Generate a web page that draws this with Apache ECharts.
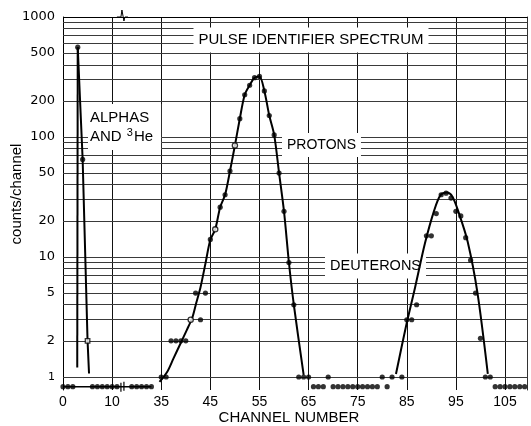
<!DOCTYPE html>
<html>
<head>
<meta charset="utf-8">
<script src="https://cdn.jsdelivr.net/npm/echarts@6/dist/echarts.min.js"></script>
<style>
  html, body { margin: 0; padding: 0; background: #fff; }
  #chart { width: 531px; height: 426px; }
</style>
</head>
<body>
<div id="chart"></div>
<script>
// Pulse identifier spectrum: counts per channel on semi-log paper.
// The channel axis is broken: channels 13..28 are cut out, so 35 sits where 20 would.

// measured channels and their counts (0 = empty channel)
const channels = [
  0, 1, 2, 3, 4, 5, 6, 7, 8, 9, 10, 11,
  29, 30, 31, 32, 33,
  35, 36, 37, 38, 39, 40, 41, 42, 43, 44, 45, 46, 47, 48, 49, 50, 51, 52, 53, 54, 55, 56, 57, 58, 59,
  60, 61, 62, 63, 64, 65, 66, 67, 68, 69, 70, 71, 72, 73, 74, 75, 76, 77, 78, 79, 80, 81, 82,
  84, 85, 86, 87,
  89, 90, 91, 92, 93, 94, 95, 96, 97, 98, 99, 100, 101, 102, 103, 104, 105, 106, 107, 108, 109
];
const counts = [
  0, 0, 0, 560, 65, 2, 0, 0, 0, 0, 0, 0,
  0, 0, 0, 0, 0,
  1, 1, 2, 2, 2, 2, 3, 5, 3, 5, 14, 17, 26, 33, 52, 85, 142, 225, 270, 312, 320, 242, 151, 104, 50,
  24, 9, 4, 1, 1, 1, 0, 0, 0, 1, 0, 0, 0, 0, 0, 0, 0, 0, 0, 0, 1, 0, 1,
  1, 3, 3, 4,
  15, 15, 23, 33, 34, 31, 24, 22, 14.5, 9.4, 5, 2.1, 1, 1, 0, 0, 0, 0, 0, 0, 0
];
const openCircleChannels = [41, 46, 50];
const openSquareChannels = [5];

// hand-drawn curves through the peaks
const alphaRiseChannels = [2.9, 3];
const alphaRiseCounts = [1.2, 560];
const alphaFallChannels = [3, 4, 5, 5.3];
const alphaFallCounts = [560, 65, 2, 1.07];
const protonFitChannels = [34.65, 36.2, 37.5, 39, 40.2, 41.3, 42.1, 43, 44, 45, 46, 47, 48, 49, 50,
  51, 52, 53, 54, 55, 56, 57, 58, 59, 60, 61, 62, 64];
const protonFitCounts = [0.91, 1.1, 1.43, 1.93, 2.46, 3.1, 4.1, 5.6, 8.8, 13.9, 17, 26, 33, 52, 85,
  142, 225, 270, 312, 320, 242, 151, 104, 50, 24, 9, 4, 1.04];
const deuteronFitChannels = [82.8, 84.8, 86.7, 88.7, 90.6, 91.9, 93.2, 94.3, 95.5, 97.4, 99.4, 101.5];
const deuteronFitCounts = [1.06, 2.6, 5.6, 13, 24.6, 32.9, 34.4, 31.8, 23.9, 13.4, 5, 1.06];
// baseline joining the empty channels on the left
const baselineChannels = [0, 33];

// axis text
const xTickLabels = ['0', '10', '35', '45', '55', '65', '75', '85', '95', '105'];
const yTickValues = [1000, 500, 200, 100, 50, 20, 10, 5, 2, 1];

// ---- axis mapping ----
const BREAK_AT = 12;    // axis position of the break
const HIDDEN = 15;      // channel offset after the break
const ZERO_ROW = 0.83;  // empty channels are drawn just under the 1-count line
const pos = ch => (ch <= BREAK_AT ? ch : ch - HIDDEN);
const row = c => (c === 0 ? ZERO_ROW : c);
const pairs = (xs, ys) => xs.map((x, i) => [pos(x), row(ys[i])]);

// log-paper rulings: 1..9 in every decade, up to 1000
const paperLines = [];
[1, 10, 100].forEach(d => { for (let m = 1; m <= 9; m++) paperLines.push(m * d); });
paperLines.push(1000);

const INK = '#000';
const FONT = '"Liberation Sans", Arial, sans-serif';
const TICK_FONT = '"DejaVu Sans", sans-serif';

const rulingData = paperLines.map(v => {
  const item = { yAxis: v };
  if (v === 1000) item.lineStyle = { color: INK, width: 1 };
  if (yTickValues.includes(v)) {
    item.label = {
      show: true, position: 'start', formatter: String(v), distance: 8,
      color: INK, fontSize: v === 1 ? 11 : 13, fontFamily: TICK_FONT
    };
  }
  return item;
});
rulingData.push({
  yAxis: ZERO_ROW, lineStyle: { opacity: 0 },
  label: { show: true, position: 'start', formatter: '0', distance: 9, color: INK, fontSize: 17,
    fontFamily: TICK_FONT }
});

const pointData = channels.map((c, i) => {
  const square = openSquareChannels.includes(c);
  const open = square || openCircleChannels.includes(c);
  return {
    value: [pos(c), row(counts[i])],
    symbol: square ? 'rect' : 'circle',
    symbolSize: square ? 4.5 : 5.2,
    itemStyle: open
      ? { color: '#fff', borderColor: INK, borderWidth: 1.3 }
      : { color: INK, borderWidth: 0 }
  };
});

const curve = (name, data, smooth) => ({
  name, type: 'line', data, smooth: smooth || false, showSymbol: false, z: 20,
  lineStyle: { color: INK, width: 2 }, silent: true
});

const chart = echarts.init(document.getElementById('chart'), null, { renderer: 'canvas' });

const option = {
  animation: false,
  backgroundColor: '#fff',
  grid: { left: 63, right: 3.4, top: 17, bottom: 36 },
  xAxis: {
    type: 'value', min: 0, max: 94.6, interval: 10,
    axisLine: { show: false }, axisTick: { show: false },
    axisLabel: {
      formatter: v => xTickLabels[Math.round(v / 10)] || '',
      showMaxLabel: false, color: INK, fontSize: 14, margin: 5, fontFamily: FONT
    },
    splitLine: { show: true, lineStyle: { color: '#111', width: 1 } }
  },
  yAxis: [
    {
      type: 'log', logBase: 10, min: 0.779, max: 1000,
      axisLine: { show: true, lineStyle: { color: INK, width: 1 } },
      axisTick: { show: false }, axisLabel: { show: false }, splitLine: { show: false }
    },
    {
      type: 'log', logBase: 10, min: 0.779, max: 1000, position: 'right',
      axisLine: { show: true, lineStyle: { color: '#333', width: 1 } },
      axisTick: { show: false }, axisLabel: { show: false }, splitLine: { show: false }
    }
  ],
  series: [
    {
      name: 'rulings', type: 'line', data: [], z: 1, silent: true,
      markLine: {
        silent: true, z: 1, symbol: ['none', 'none'], animation: false,
        lineStyle: { type: 'solid', color: '#3a3a3a', width: 1 },
        label: { show: false },
        emphasis: { disabled: true },
        data: rulingData
      }
    },
    {
      name: 'baseline', type: 'line', data: baselineChannels.map(c => [pos(c), ZERO_ROW]),
      showSymbol: false, z: 20, silent: true, lineStyle: { color: INK, width: 1.5 }
    },
    curve('alphaRise', pairs(alphaRiseChannels, alphaRiseCounts)),
    curve('alphaFall', pairs(alphaFallChannels, alphaFallCounts)),
    curve('protonFit', pairs(protonFitChannels, protonFitCounts), 0.3),
    curve('deuteronFit', pairs(deuteronFitChannels, deuteronFitCounts), 0.3),
    {
      name: 'counts', type: 'scatter', data: pointData, z: 30, silent: true
    }
  ]
};
chart.setOption(option);

// annotations and break marks
const px = v => chart.convertToPixel({ gridIndex: 0 }, v);
const brkTop = px([BREAK_AT, 1000]);
const brkBot = px([BREAK_AT, ZERO_ROW]);
const boxText = (text, x, y, size, align) => ({
  type: 'text', x, y, z: 10, silent: true,
  style: {
    text, align: align || 'left', verticalAlign: 'middle',
    font: size + 'px ' + FONT, fill: INK, backgroundColor: '#fff', padding: [5, 5, 5, 5]
  }
});

chart.setOption({
  graphic: [
    boxText('PULSE IDENTIFIER SPECTRUM', 311, 40, 15, 'center'),
    {
      type: 'text', x: 88, y: 127, z: 10, silent: true,
      style: {
        text: 'ALPHAS\nAND {sup|3}He', align: 'left', verticalAlign: 'middle', lineHeight: 19,
        font: '15px ' + FONT, fill: INK, backgroundColor: '#fff', padding: [4, 8, 4, 2],
        rich: {
          sup: { fontSize: 11, fontFamily: 'Liberation Sans', fill: INK, verticalAlign: 'top',
            lineHeight: 19, padding: [0, 1, 6, 1] }
        }
      }
    },
    boxText('PROTONS', 282, 145, 14, 'left'),
    boxText('DEUTERONS', 325, 266, 14.5, 'left'),
    {
      type: 'text', x: 17, y: 194, rotation: Math.PI / 2, silent: true,
      style: { text: 'counts/channel', align: 'center', verticalAlign: 'middle',
        font: '15px ' + FONT, fill: INK }
    },
    {
      type: 'text', x: 289, y: 418, silent: true,
      style: { text: 'CHANNEL NUMBER', align: 'center', verticalAlign: 'middle',
        font: '15px ' + FONT, fill: INK }
    },
    {
      type: 'polyline', z: 12, silent: true,
      shape: { points: [[brkTop[0] - 5, brkTop[1]], [brkTop[0] - 1, brkTop[1]], [brkTop[0], brkTop[1] - 7],
        [brkTop[0] + 2, brkTop[1] + 4], [brkTop[0] + 3, brkTop[1]], [brkTop[0] + 6, brkTop[1]]] },
      style: { stroke: INK, lineWidth: 1, fill: null }
    },
    {
      type: 'line', z: 40, silent: true,
      shape: { x1: brkBot[0] - 1, y1: brkBot[1] - 4, x2: brkBot[0] - 1, y2: brkBot[1] + 5 },
      style: { stroke: INK, lineWidth: 1.2 }
    },
    {
      type: 'line', z: 40, silent: true,
      shape: { x1: brkBot[0] + 2, y1: brkBot[1] - 5, x2: brkBot[0] + 2, y2: brkBot[1] + 4 },
      style: { stroke: INK, lineWidth: 1.2 }
    }
  ]
});
</script>
</body>
</html>
